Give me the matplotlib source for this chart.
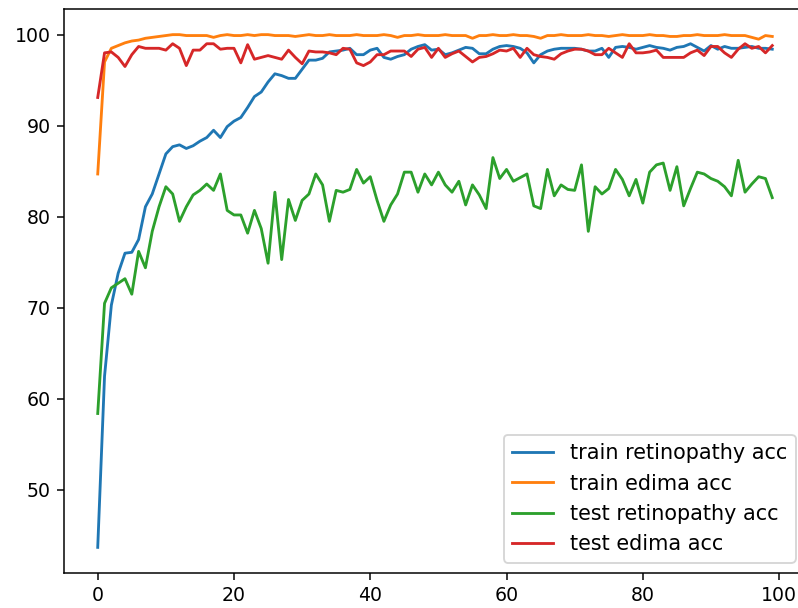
import matplotlib
matplotlib.use("Agg")
import matplotlib.pyplot as plt

# accuracy per epoch
train_retinopathy_acc = [
    43.7, 62.5, 70.3, 73.8, 76.0, 76.1, 77.5, 81.1, 82.5, 84.7,
    86.9, 87.7, 87.9, 87.5, 87.8, 88.3, 88.7, 89.5, 88.7, 89.9,
    90.5, 90.9, 92.0, 93.2, 93.7, 94.8, 95.7, 95.5, 95.2, 95.2,
    96.2, 97.2, 97.2, 97.4, 98.1, 98.2, 98.3, 98.5, 97.8, 97.8,
    98.3, 98.5, 97.5, 97.3, 97.6, 97.8, 98.4, 98.7, 98.9, 98.3,
    98.4, 97.8, 98.0, 98.3, 98.6, 98.5, 97.9, 97.9, 98.4, 98.7,
    98.8, 98.7, 98.5, 98.0, 96.9, 97.8, 98.2, 98.4, 98.5, 98.5,
    98.5, 98.4, 98.2, 98.2, 98.5, 97.5, 98.6, 98.7, 98.6, 98.4,
    98.6, 98.8, 98.6, 98.5, 98.3, 98.6, 98.7, 99.0, 98.6, 98.2,
    98.8, 98.4, 98.7, 98.5, 98.5, 98.6, 98.7, 98.5, 98.5, 98.4,
]
train_edima_acc = [
    84.7, 97.0, 98.5, 98.8, 99.1, 99.3, 99.4, 99.6, 99.7, 99.8,
    99.9, 100.0, 100.0, 99.9, 99.9, 99.9, 99.9, 99.7, 99.9, 100.0,
    99.9, 99.9, 100.0, 99.9, 100.0, 100.0, 99.9, 99.9, 99.9, 99.8,
    99.9, 100.0, 99.9, 99.9, 100.0, 99.9, 99.9, 99.9, 100.0, 99.9,
    99.9, 99.9, 100.0, 99.9, 99.7, 99.9, 99.9, 100.0, 99.9, 99.9,
    99.9, 100.0, 99.9, 99.9, 99.9, 99.6, 99.9, 99.9, 100.0, 99.9,
    99.9, 100.0, 99.9, 99.9, 99.8, 99.6, 99.9, 99.9, 100.0, 99.9,
    99.9, 99.9, 100.0, 99.9, 99.9, 99.8, 99.9, 100.0, 99.9, 99.9,
    99.9, 100.0, 99.9, 99.9, 99.8, 99.8, 99.9, 99.9, 100.0, 99.9,
    99.9, 99.9, 100.0, 99.9, 99.9, 99.9, 99.7, 99.5, 99.9, 99.8,
]
test_retinopathy_acc = [
    58.4, 70.5, 72.2, 72.7, 73.2, 71.5, 76.2, 74.4, 78.4, 81.1,
    83.3, 82.5, 79.5, 81.1, 82.4, 82.9, 83.6, 82.9, 84.7, 80.7,
    80.2, 80.2, 78.2, 80.7, 78.7, 74.9, 82.7, 75.3, 81.9, 79.6,
    81.8, 82.5, 84.7, 83.5, 79.5, 82.9, 82.7, 83.0, 85.2, 83.7,
    84.4, 81.8, 79.5, 81.3, 82.5, 84.9, 84.9, 82.7, 84.7, 83.5,
    84.9, 83.5, 82.7, 83.9, 81.3, 83.5, 82.4, 80.9, 86.5, 84.2,
    85.2, 83.9, 84.3, 84.7, 81.2, 80.9, 85.2, 82.3, 83.5, 83.0,
    82.9, 85.7, 78.4, 83.3, 82.5, 83.1, 85.2, 84.1, 82.3, 84.1,
    81.5, 84.9, 85.7, 85.9, 82.9, 85.5, 81.2, 83.1, 84.9, 84.7,
    84.2, 83.9, 83.3, 82.3, 86.2, 82.7, 83.6, 84.4, 84.2, 82.1,
]
test_edima_acc = [
    93.1, 98.0, 98.1, 97.5, 96.5, 97.8, 98.7, 98.5, 98.5, 98.5,
    98.3, 99.0, 98.5, 96.6, 98.3, 98.3, 99.0, 99.0, 98.4, 98.5,
    98.5, 96.9, 98.9, 97.3, 97.5, 97.7, 97.5, 97.3, 98.3, 97.5,
    96.8, 98.2, 98.1, 98.1, 98.0, 97.8, 98.5, 98.4, 96.9, 96.6,
    97.0, 97.8, 97.8, 98.2, 98.2, 98.2, 97.6, 98.4, 98.6, 97.5,
    98.5, 97.5, 97.9, 98.2, 97.6, 97.0, 97.5, 97.6, 97.9, 98.3,
    98.2, 98.5, 97.5, 98.5, 97.8, 97.6, 97.5, 97.3, 97.9, 98.2,
    98.4, 98.4, 98.2, 97.8, 97.8, 98.5, 98.0, 97.5, 99.0, 98.0,
    98.0, 98.1, 98.3, 97.5, 97.5, 97.5, 97.5, 98.0, 98.3, 97.7,
    98.7, 98.7, 98.0, 97.5, 98.4, 99.0, 98.5, 98.7, 98.0, 98.8,
]

dpi = 136
fig = plt.figure(figsize=(798 / dpi, 608 / dpi), dpi=dpi)
# the reference is cropped on the right, so the axes run past the edge
ax = fig.add_axes([64 / 798, 35 / 608, 742 / 798, 564 / 608])

ax.plot(train_retinopathy_acc, label="train retinopathy acc")
ax.plot(train_edima_acc, label="train edima acc")
ax.plot(test_retinopathy_acc, label="test retinopathy acc")
ax.plot(test_edima_acc, label="test edima acc")
ax.legend(loc="lower right", fontsize=11)

fig.savefig("out.png", dpi=dpi)
